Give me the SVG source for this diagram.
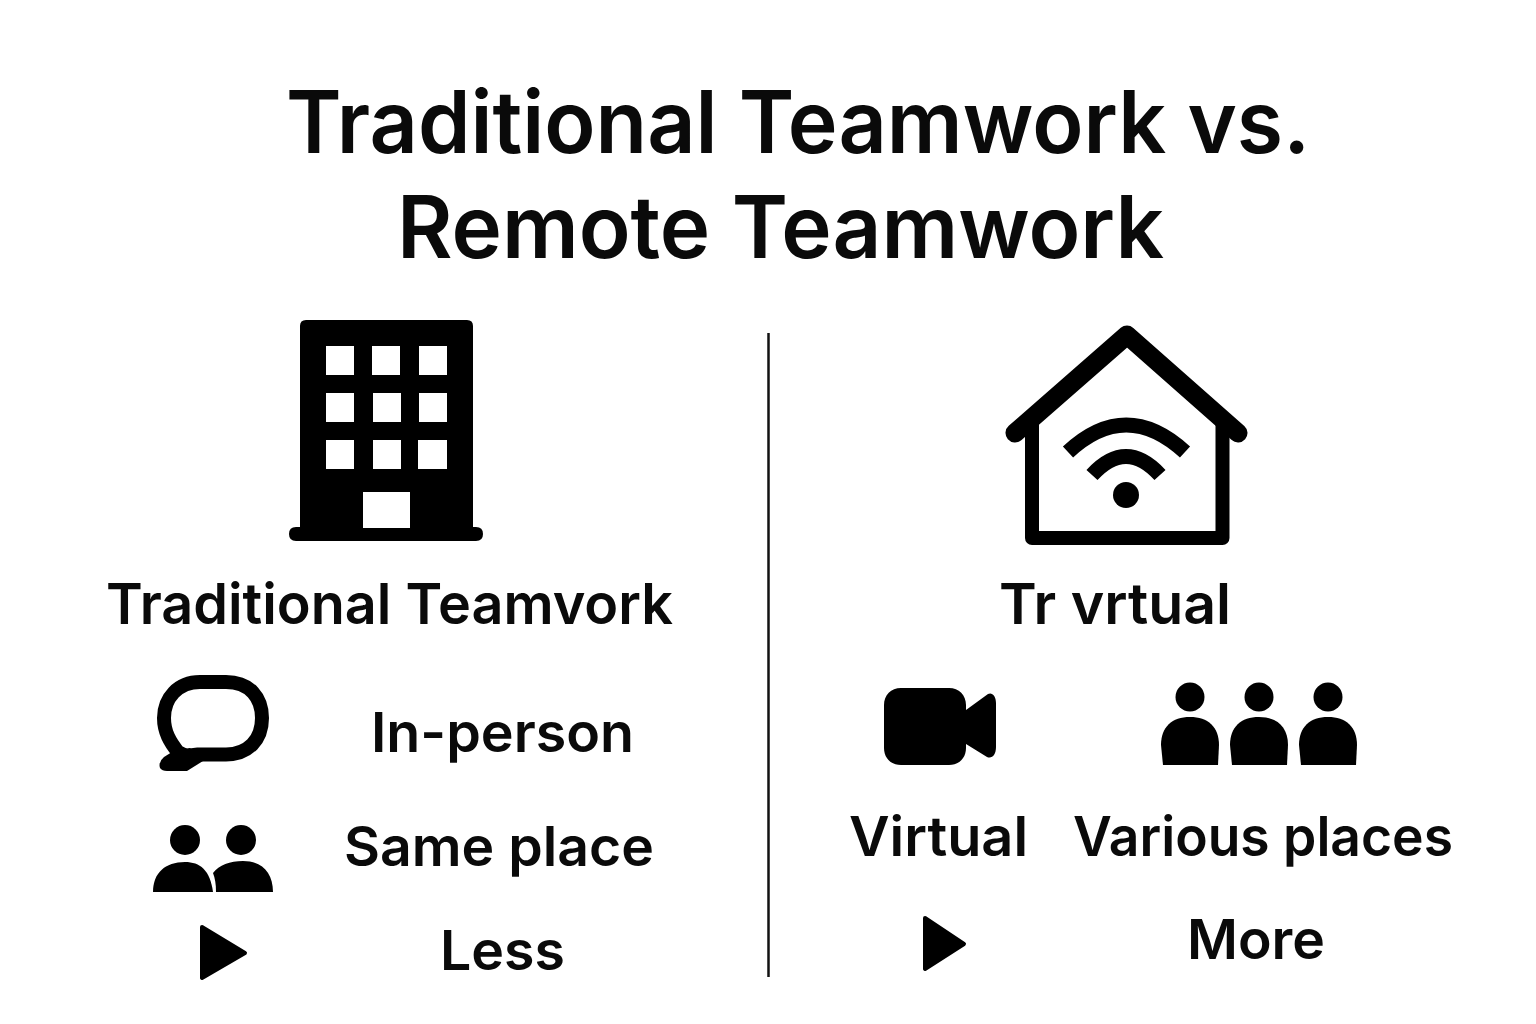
<svg xmlns="http://www.w3.org/2000/svg" width="1536" height="1024" viewBox="0 0 1536 1024">
<style>
text{font-family:Inter,"Liberation Sans",sans-serif;fill:#0a0a0a;font-weight:600}
.t{font-size:86px}
.h{font-size:57px}
.l{font-size:55px}
.s{fill:none;stroke:#000;stroke-linecap:round;stroke-linejoin:round}
.w{fill:none;stroke:#000;stroke-width:15}
.tri{stroke:#000;stroke-width:4;stroke-linejoin:round}
</style>
<defs><path id="body" d="M1163 765L1161 745C1161 727 1172 717 1190 717C1208 717 1219 727 1219 745L1218 765Z"/></defs>
<rect width="1536" height="1024" fill="#fff"/>
<g id="title"><text class="t" x="286" y="153" textLength="1024" lengthAdjust="spacingAndGlyphs">Traditional Teamwork vs.</text><text class="t" x="397" y="258" textLength="767" lengthAdjust="spacingAndGlyphs">Remote Teamwork</text></g>
<g id="connectors"><line x1="768.500" y1="333" x2="768.500" y2="977" stroke="#111" stroke-width="2.500"/></g>
<g id="building"><path d="M306 320H467Q473 320 473 326V527H476Q483 527 483 534Q483 541 476 541H296Q289 541 289 534Q289 527 296 527H300V326Q300 320 306 320Z"/>
<g fill="#fff"><rect x="326" y="346" width="28" height="29"/><rect x="372" y="346" width="28" height="29"/><rect x="419" y="346" width="28" height="29"/><rect x="326" y="393" width="28" height="29"/><rect x="373" y="393" width="28" height="29"/><rect x="419" y="393" width="28" height="29"/><rect x="326" y="440" width="28" height="29"/><rect x="373" y="440" width="28" height="29"/><rect x="418" y="440" width="29" height="29"/><rect x="363" y="492" width="47" height="36"/></g></g>
<g id="house"><path class="s" stroke-width="19" d="M1015 433L1127 335L1238 433"/><path class="s" stroke-width="14" d="M1032 420V538H1222.500V420"/><path class="w" d="M1068 452Q1126 398 1185 452M1092 475Q1126 438 1160 475"/><circle cx="1126" cy="495" r="13"/></g>
<g id="traditional-heading"><text class="h" x="106" y="624" textLength="567" lengthAdjust="spacingAndGlyphs">Traditional Teamvork</text></g>
<g id="virtual-heading"><text class="h" x="999" y="624" textLength="232" lengthAdjust="spacingAndGlyphs">Tr vrtual</text></g>
<g id="speech"><path class="s" stroke-width="14" d="M200 682H226C250 682 262 698 262 718C262 740 248 754.500 226 754.500H198L186 756L178 752C170 742 164 732 164 718C164 698 178 682 200 682Z"/><path d="M172 752L164 757Q158 762 160 768Q162 771 167 771H187L203 761L190 748Z"/><text class="l" x="371" y="752" textLength="263" lengthAdjust="spacingAndGlyphs">In-person</text></g>
<g id="same"><circle cx="185" cy="840" r="15"/><circle cx="241" cy="840" r="15"/><path d="M153 892C153 873 165 862 185 862C200 862 210 870 213 892Z"/><path d="M216 892C216 884 215 878 213 873C219 865 230 861 243 861C262 861 273 873 273 892Z"/><text class="l" x="344" y="866" textLength="310" lengthAdjust="spacingAndGlyphs">Same place</text></g>
<g id="less"><path class="tri" d="M202 927L245 953L202 978Z"/><text class="l" x="440" y="970" textLength="125" lengthAdjust="spacingAndGlyphs">Less</text></g>
<g id="video"><path d="M901 688H949C959 688 966 695 966 705V710L988 694C992 692 996 696 996 703V747C996 755 992 759 987 757L966 744V748C966 758 959 765 949 765H901C891 765 884 758 884 748V705C884 695 891 688 901 688Z"/><text class="l" x="849" y="856" textLength="179" lengthAdjust="spacingAndGlyphs">Virtual</text></g>
<g id="people"><circle cx="1190" cy="697" r="14.500"/><circle cx="1259" cy="697" r="14.500"/><circle cx="1328" cy="697" r="14.500"/><use href="#body"/><use href="#body" x="69"/><use href="#body" x="138"/><text class="l" x="1073" y="856" textLength="380" lengthAdjust="spacingAndGlyphs">Various places</text></g>
<g id="more"><path class="tri" d="M925 918L964 944L925 969Z"/><text class="l" x="1187" y="959" textLength="138" lengthAdjust="spacingAndGlyphs">More</text></g>
</svg>
